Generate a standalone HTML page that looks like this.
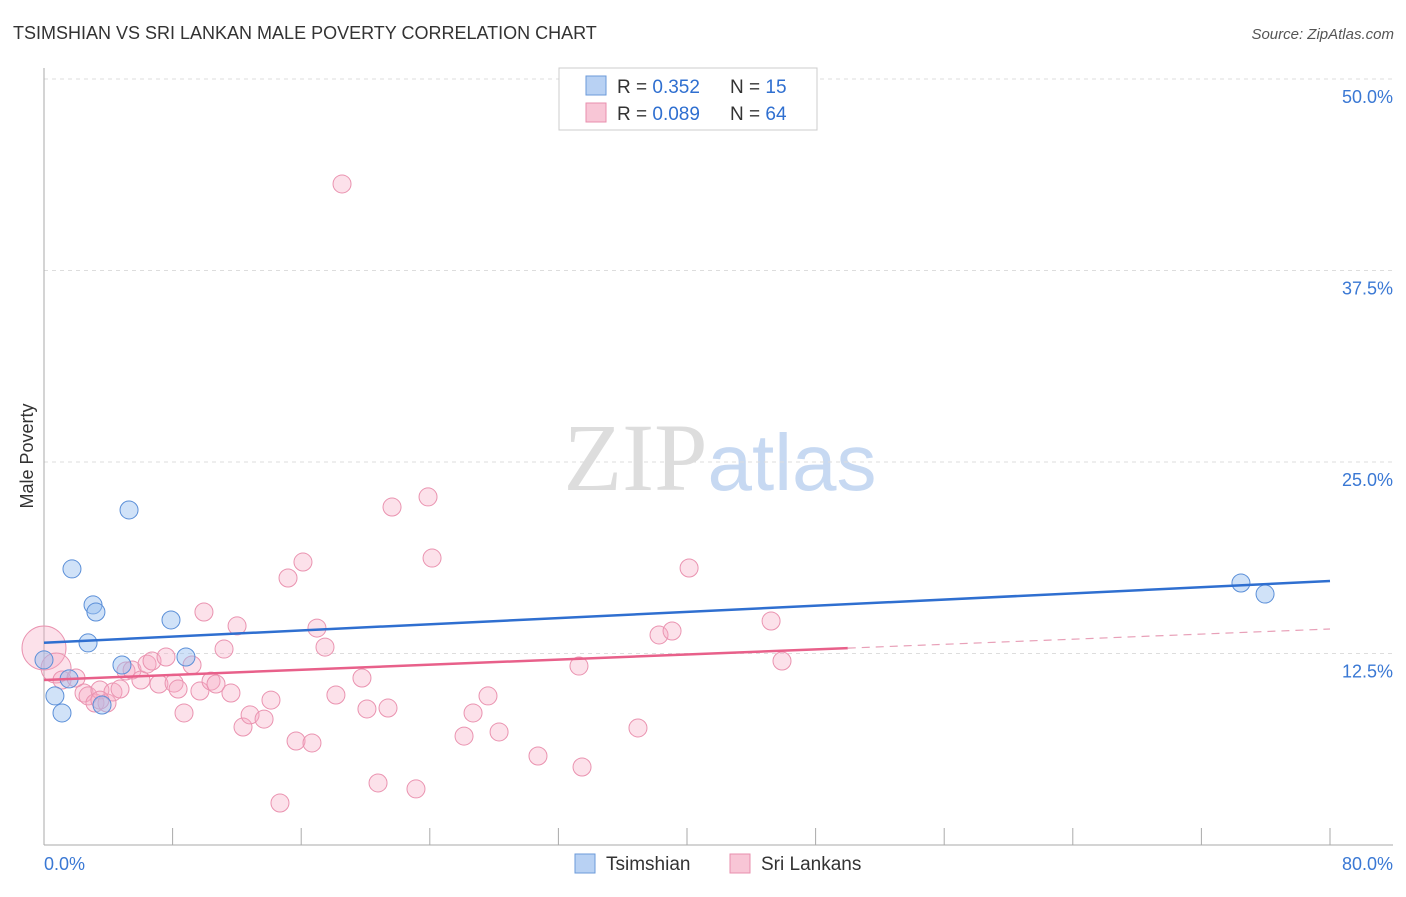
<!DOCTYPE html>
<html><head><meta charset="utf-8"><style>
body{margin:0;background:#fff;font-family:"Liberation Sans",sans-serif}
</style></head><body>
<svg id="chart" width="1406" height="892" xmlns="http://www.w3.org/2000/svg" font-family="Liberation Sans, sans-serif">
<text x="13" y="39" font-size="18" fill="#333">TSIMSHIAN VS SRI LANKAN MALE POVERTY CORRELATION CHART</text>
<text x="1394" y="39" font-size="15" fill="#555" font-style="italic" text-anchor="end">Source: ZipAtlas.com</text>
<text x="720" y="490" font-size="96" text-anchor="middle" fill="#ddd" font-family="Liberation Serif, serif">ZIP<tspan fill="#c7d9f2" font-family="Liberation Sans, sans-serif" font-size="80">atlas</tspan></text>
<text transform="translate(33,456) rotate(-90)" font-size="18" fill="#333" text-anchor="middle">Male Poverty</text>
<g id="grid"></g><g id="axes"></g><g id="marks"></g>
<g>
<rect x="559" y="68" width="258" height="62" fill="#fff" stroke="#ccc"/>
<rect x="586" y="76" width="20" height="19" fill="#b8d1f3" stroke="#6b9ad9"/>
<rect x="586" y="103" width="20" height="19" fill="#f8c6d6" stroke="#e88fae"/>
<text x="617" y="93" font-size="19" fill="#333">R = <tspan fill="#2f6fd0">0.352</tspan></text>
<text x="730" y="93" font-size="19" fill="#333">N = <tspan fill="#2f6fd0"> 15</tspan></text>
<text x="617" y="120" font-size="19" fill="#333">R = <tspan fill="#2f6fd0">0.089</tspan></text>
<text x="730" y="120" font-size="19" fill="#333">N = <tspan fill="#2f6fd0">64</tspan></text>
</g>
<g>
<rect x="575" y="854" width="20" height="19" fill="#b8d1f3" stroke="#6b9ad9"/>
<text x="606" y="870" font-size="19" fill="#333">Tsimshian</text>
<rect x="730" y="854" width="20" height="19" fill="#f8c6d6" stroke="#e88fae"/>
<text x="761" y="870" font-size="19" fill="#333">Sri Lankans</text>
</g>
</svg>
<script>
const yTicks=[12.5,25,37.5,50];
const yTickLabels=["12.5%","25.0%","37.5%","50.0%"];
const xTicks=[0,8,16,24,32,40,48,56,64,72,80];
const blueX=[0,0.68,1.12,1.56,1.74,2.74,3.05,3.23,3.61,4.85,5.29,7.90,8.83,74.46,75.96];
const blueY=[12.08,9.73,8.62,10.84,18.02,13.19,15.67,15.21,9.14,11.75,21.87,14.69,12.27,17.10,16.38];
const pinkX=[0,0.75,1.12,1.99,2.49,2.74,3.17,3.48,3.92,4.29,4.73,5.10,5.48,6.03,6.41,6.72,7.15,7.59,8.09,8.34,8.71,9.21,9.70,9.95,10.39,10.70,11.20,11.63,12.01,12.38,12.82,13.69,14.12,15.18,15.68,16.11,16.67,16.98,17.48,18.16,18.54,19.78,20.09,20.78,21.40,21.65,23.14,23.89,24.14,26.13,26.69,27.62,28.31,30.73,33.28,33.47,36.95,38.26,39.07,40.13,45.23,45.91,14.68,3.48];
const pinkY=[12.86,11.55,10.77,10.90,9.92,9.73,9.27,10.12,9.27,9.99,10.18,11.36,11.42,10.77,11.81,12.01,10.51,12.27,10.57,10.18,8.62,11.75,10.05,15.21,10.70,10.51,12.79,9.92,14.30,7.70,8.49,8.22,9.46,17.43,6.79,18.47,6.66,14.16,12.92,9.79,43.15,10.90,8.88,4.05,8.94,22.06,3.66,22.72,18.73,7.11,8.62,9.73,7.38,5.81,11.68,5.09,7.64,13.71,13.97,18.08,14.62,12.01,2.74,9.46];
const blueTrend=[13.2,17.23];
const pinkTrend=[10.77,14.10];
const pinkSolidEnd=50;
const NS="http://www.w3.org/2000/svg";
const X=v=>44+v/80*1286, Y=v=>845-v/12.5*191.5;
function mk(tag,attrs,parent){const e=document.createElementNS(NS,tag);for(const k in attrs)e.setAttribute(k,attrs[k]);parent.appendChild(e);return e;}
const grid=document.getElementById('grid'),axes=document.getElementById('axes'),marks=document.getElementById('marks');
yTicks.forEach((t,i)=>{
 const l=mk('line',{x1:44,x2:1393,y1:Y(t),y2:Y(t),stroke:'#ddd','stroke-dasharray':'4,4'},grid);
 
 
 const tx=mk('text',{x:1393,y:Y(t)+24,'font-size':18,fill:'#3a78d4','text-anchor':'end'},axes);
 tx.textContent=yTickLabels[i];
 
 
});
const ax=mk('line',{x1:44,x2:44,y1:68,y2:845,stroke:'#aaa'},axes);


const bx=mk('line',{x1:44,x2:1393,y1:845,y2:845,stroke:'#aaa'},axes);


xTicks.forEach(t=>{
 const l=mk('line',{x1:X(t),x2:X(t),y1:828,y2:845,stroke:'#aaa'},axes);
 
 
});
const x0=mk('text',{x:44,y:870,'font-size':18,fill:'#3a78d4'},axes);x0.textContent=xTicks[0].toFixed(1)+'%';


const x1=mk('text',{x:1393,y:870,'font-size':18,fill:'#3a78d4','text-anchor':'end'},axes);x1.textContent=xTicks[xTicks.length-1].toFixed(1)+'%';


pinkX.forEach((v,i)=>{
 const r=i===0?22:(i===1?15:9);
 const c=mk('circle',{cx:X(v),cy:Y(pinkY[i]),r:r,fill:'rgba(245,170,195,0.35)',stroke:'#ea93b0','stroke-width':1},marks);
 
 
});
blueX.forEach((v,i)=>{
 const c=mk('circle',{cx:X(v),cy:Y(blueY[i]),r:9,fill:'rgba(150,190,240,0.45)',stroke:'#5b8fd8','stroke-width':1},marks);
 
 
});
const bt=mk('line',{x1:X(0),y1:Y(blueTrend[0]),x2:X(80),y2:Y(blueTrend[1]),stroke:'#2f6fd0','stroke-width':2.5},marks);


const pe=pinkTrend[0]+(pinkTrend[1]-pinkTrend[0])*pinkSolidEnd/80;
const pt=mk('line',{x1:X(0),y1:Y(pinkTrend[0]),x2:X(pinkSolidEnd),y2:Y(pe),stroke:'#e8608a','stroke-width':2.5},marks);


const pd=mk('line',{x1:X(pinkSolidEnd),y1:Y(pe),x2:X(80),y2:Y(pinkTrend[1]),stroke:'#e8a0b8','stroke-width':1.2,'stroke-dasharray':'8,6'},marks);


</script>
</body></html>
